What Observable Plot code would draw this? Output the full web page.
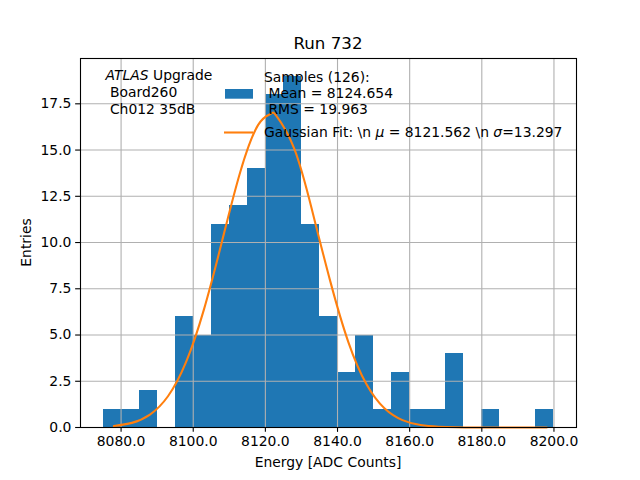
<!DOCTYPE html>
<html>
<head>
<meta charset="utf-8">
<script src="https://cdn.jsdelivr.net/npm/d3@7"></script>
<script src="https://cdn.jsdelivr.net/npm/@observablehq/plot@0.6"></script>
<style>
  html, body { margin: 0; padding: 0; background: white; }
  #chart { width: 640px; height: 480px; }
</style>
</head>
<body>
<div id="chart"></div>
<script>
// Histogram bin edges and counts
const binEdges = [8075, 8080, 8085, 8090, 8095, 8100, 8105, 8110, 8115, 8120, 8125, 8130, 8135,
                  8140, 8145, 8150, 8155, 8160, 8165, 8170, 8175, 8180, 8185, 8190, 8195, 8200];
const counts = [1, 1, 2, 0, 6, 5, 11, 12, 14, 18, 19, 11, 6, 3, 5, 1, 3, 1, 1, 4, 0, 1, 0, 0, 1];

// Gaussian fit curve
const fitX = [8078, 8083, 8088, 8093, 8098, 8103, 8108, 8113, 8118, 8121.5, 8123, 8128, 8133, 8138,
              8143, 8148, 8153, 8158, 8163, 8168, 8173, 8178, 8183, 8188, 8193, 8198];
const fitY = [0.08, 0.25, 0.70, 1.69, 3.53, 6.40, 10.08, 13.79, 16.36, 16.96, 16.86, 15.08, 11.71, 7.90,
              4.62, 2.35, 1.04, 0.40, 0.13, 0.04, 0.01, 0, 0, 0, 0, 0];

const xTicks = [8080, 8100, 8120, 8140, 8160, 8180, 8200];
const yTicks = [0, 2.5, 5, 7.5, 10, 12.5, 15, 17.5];

const title = "Run 732";
const xLabel = "Energy [ADC Counts]";
const yLabel = "Entries";
const annotation = ["Upgrade", " Board260", " Ch012 35dB"];
const sampleLabel = ["Samples (126):", " Mean = 8124.654", " RMS = 19.963"];

const bins = counts.map((c, i) => ({x1: binEdges[i], x2: binEdges[i + 1], count: c}));
const fit = fitX.map((x, i) => ({x, y: fitY[i]}));

const FS = 13.9;
const grid = {stroke: "#b0b0b0", strokeOpacity: 1, strokeWidth: 1.1};

const chart = Plot.plot({
  width: 640,
  height: 480,
  marginLeft: 80,
  marginRight: 64,
  marginTop: 58,
  marginBottom: 53,
  style: {fontFamily: "DejaVu Sans", fontSize: FS + "px", color: "black", background: "white", overflow: "visible"},
  x: {domain: [8068.75, 8206.25]},
  y: {domain: [0, 19.95]},
  marks: [
    Plot.rectY(bins, {x1: "x1", x2: "x2", y1: 0, y2: "count", fill: "#1f77b4", shapeRendering: "crispEdges"}),
    Plot.gridX(xTicks, grid),
    Plot.gridY(yTicks, grid),
    Plot.line(fit, {x: "x", y: "y", stroke: "#ff7f0e", strokeWidth: 2.08, curve: "natural"}),
    Plot.frame({stroke: "black", strokeWidth: 1.1}),
    Plot.axisX(xTicks, {tickFormat: d3.format(".1f"), tickSize: 4.86, tickPadding: 4.2, label: null, strokeWidth: 1.1}),
    Plot.axisY(yTicks, {tickFormat: d3.format(".1f"), tickSize: 4.86, tickPadding: 4.2, label: null, strokeWidth: 1.1})
  ]
});

document.getElementById("chart").appendChild(chart);

const svg = d3.select(chart);
const g = svg.append("g").attr("font-family", "DejaVu Sans").attr("fill", "black")
  .attr("text-anchor", "start").attr("font-size", FS + "px");

// Title
g.append("text").attr("x", 328).attr("y", 49).attr("text-anchor", "middle")
  .attr("font-size", "16.67px").text(title);
// Axis labels
g.append("text").attr("x", 328).attr("y", 467).attr("text-anchor", "middle").text(xLabel);
g.append("text").attr("transform", "translate(31,242.5) rotate(-90)").attr("text-anchor", "middle").text(yLabel);

// ATLAS annotation
const t1 = g.append("text").attr("x", 105.5).attr("y", 80);
t1.append("tspan").attr("font-style", "italic").text("ATLAS");
t1.append("tspan").text(" " + annotation[0]);
g.append("text").attr("x", 105.5).attr("y", 97)
  .attr("xml:space", "preserve").style("white-space", "pre").text(annotation[1]);
g.append("text").attr("x", 105.5).attr("y", 114)
  .attr("xml:space", "preserve").style("white-space", "pre").text(annotation[2]);

// Legend
g.append("rect").attr("x", 225).attr("y", 89).attr("width", 28).attr("height", 9.7).attr("fill", "#1f77b4");
sampleLabel.forEach((s, i) => {
  g.append("text").attr("x", 264).attr("y", 81.5 + i * 16.3)
    .attr("xml:space", "preserve").style("white-space", "pre").text(s);
});
g.append("line").attr("x1", 224).attr("x2", 253).attr("y1", 132.5).attr("y2", 132.5)
  .attr("stroke", "#ff7f0e").attr("stroke-width", 2.08);
const t2 = g.append("text").attr("x", 264).attr("y", 136.5)
  .attr("xml:space", "preserve").style("white-space", "pre");
t2.append("tspan").text("Gaussian Fit: \\n ");
t2.append("tspan").attr("font-style", "italic").text("\u03BC");
t2.append("tspan").text(" = 8121.562 \\n ");
t2.append("tspan").attr("font-style", "italic").text("\u03C3");
t2.append("tspan").text("=13.297");
</script>
</body>
</html>
